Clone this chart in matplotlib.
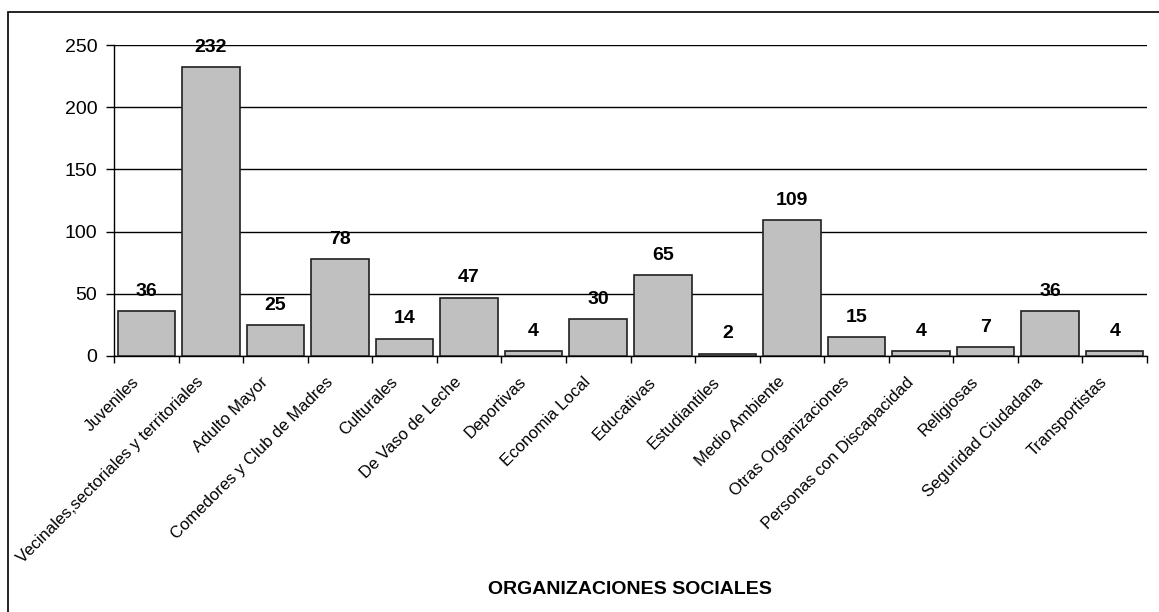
import matplotlib.pyplot as plt
from matplotlib.patches import Rectangle

categorias = ["Juveniles", "Vecinales,sectoriales y territoriales", "Adulto Mayor",
              "Comedores y Club de Madres", "Culturales", "De Vaso de Leche",
              "Deportivas", "Economia Local", "Educativas", "Estudiantiles",
              "Medio Ambiente", "Otras Organizaciones", "Personas con Discapacidad",
              "Religiosas", "Seguridad Ciudadana", "Transportistas"]
valores = [36, 232, 25, 78, 14, 47, 4, 30, 65, 2, 109, 15, 4, 7, 36, 4]
y_ticks = [0, 50, 100, 150, 200, 250]

plt.rcParams["font.family"] = ["Liberation Sans", "DejaVu Sans"]

fig = plt.figure(figsize=(11.59, 6.12), dpi=100)
ax = fig.add_axes([114 / 1159, 1 - 356 / 612, (1147 - 114) / 1159, (356 - 45) / 612])

# outer chart frame (cut off at right and bottom like the reference)
fig.patches.append(Rectangle((8 / 1159, -0.1), 1.2, 1 - 12 / 612 + 0.1,
                             transform=fig.transFigure, fill=False,
                             edgecolor="black", linewidth=1.2))

x = list(range(len(categorias)))
bars = ax.bar(x, valores, width=0.89, color="#C0C0C0", edgecolor="#202020",
              linewidth=1.2, zorder=3)

for b, v in zip(bars, valores):
    ax.annotate(str(v), (b.get_x() + b.get_width() / 2, v), xytext=(0, 8),
                textcoords="offset points", ha="center", va="bottom",
                fontsize=14, fontweight="bold")

ax.set_xlim(-0.5, len(categorias) - 0.5)
ax.set_ylim(0, 250)
ax.set_yticks(y_ticks)
ax.tick_params(axis="y", labelsize=14, length=6, width=1, direction="out", pad=6)
ax.yaxis.grid(True, color="black", linewidth=1.0, zorder=0)
ax.set_axisbelow(True)

ax.set_xticks([i - 0.5 for i in range(len(categorias) + 1)])
ax.set_xticklabels([])
ax.tick_params(axis="x", length=5, width=1, direction="out")
for i, lab in enumerate(categorias):
    ax.annotate(lab, (i, 0), xytext=(-7, -17), textcoords="offset points",
                xycoords=("data", "axes fraction"), rotation=45,
                rotation_mode="anchor", ha="right", va="center", fontsize=12)

ax.spines["top"].set_visible(False)
ax.spines["right"].set_visible(False)
ax.spines["left"].set_linewidth(1.0)
ax.spines["bottom"].set_linewidth(1.0)

fig.text(630 / 1159, 1 - 589 / 612, "ORGANIZACIONES SOCIALES", ha="center",
         va="center", fontsize=14, fontweight="bold")

fig.savefig("out.png", dpi=100)
